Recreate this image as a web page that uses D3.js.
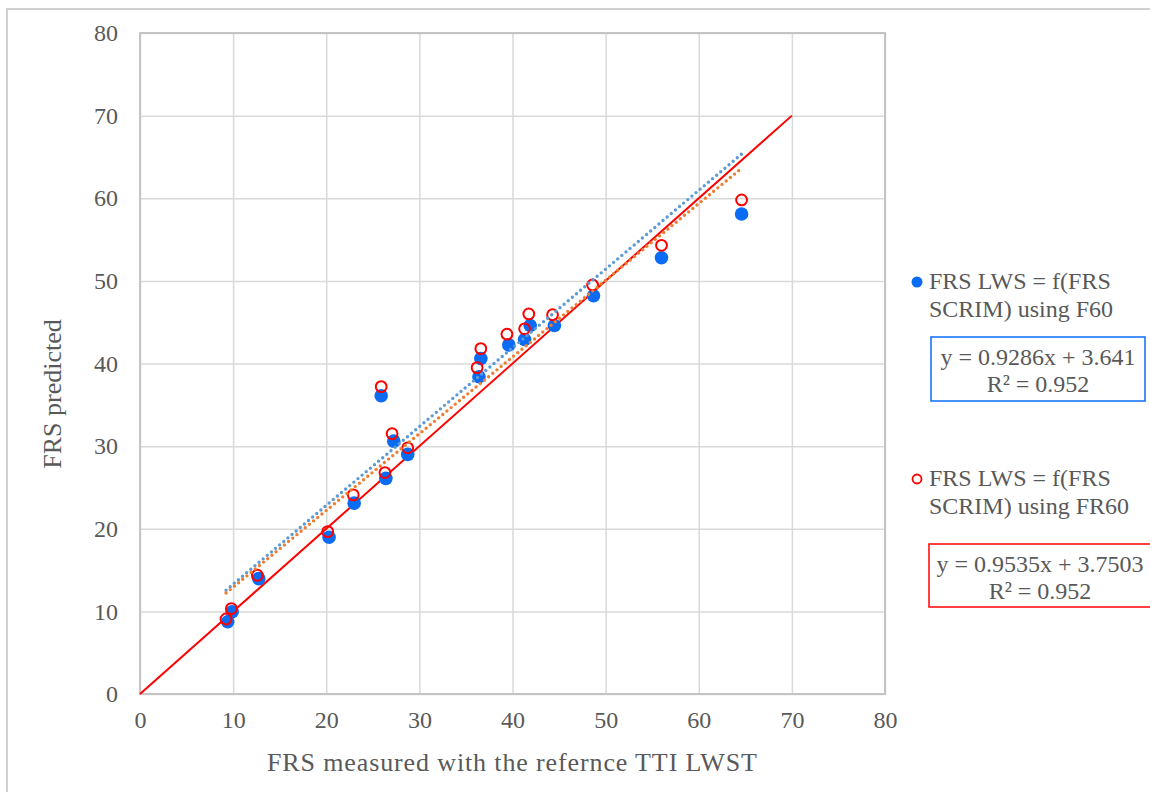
<!DOCTYPE html>
<html>
<head>
<meta charset="utf-8">
<script src="https://cdn.jsdelivr.net/npm/d3@7"></script>
<style>
  body { margin: 0; background: #fff; }
  svg { display: block; }
  text { font-family: "Liberation Serif", "Times New Roman", serif; fill: #595959; }
</style>
</head>
<body>
<div id="chart"></div>
<script>
// measured FRS (x) and predicted FRS (y) for both series
const f60Measured = [9.42, 9.9, 12.75, 20.3, 23.0, 25.9, 26.4, 27.25, 28.75, 36.4, 36.6, 39.6, 41.3, 41.9, 44.5, 48.7, 56.0, 64.6];
const f60Predicted = [8.75, 9.96, 13.96, 18.97, 23.1, 36.1, 26.1, 30.6, 29.0, 38.4, 40.6, 42.25, 42.9, 44.6, 44.6, 48.2, 52.8, 58.1];
const fr60Measured = [9.24, 9.81, 12.6, 20.16, 22.9, 25.9, 26.3, 27.07, 28.75, 36.2, 36.6, 39.4, 41.3, 41.75, 44.3, 48.6, 56.0, 64.6];
const fr60Predicted = [9.08, 10.33, 14.37, 19.65, 24.1, 37.2, 26.8, 31.5, 29.8, 39.5, 41.8, 43.55, 44.2, 46.0, 45.9, 49.5, 54.3, 59.8];

// trendlines as drawn (dotted blue, dotted orange)
const trendSlopes = [0.9535, 0.9286];
const trendIntercepts = [3.7503, 3.641];
const trendRange = [9.24, 64.6];

// y = x reference line
const identityRange = [0, 70];

const xTicks = [0, 10, 20, 30, 40, 50, 60, 70, 80];
const yTicks = [0, 10, 20, 30, 40, 50, 60, 70, 80];

const legendLabels = [
  ['FRS LWS = f(FRS', 'SCRIM) using F60'],
  ['FRS LWS = f(FRS', 'SCRIM) using FR60'],
];
const equationLabels = [
  ['y = 0.9286x + 3.641', 'R² = 0.952'],
  ['y = 0.9535x + 3.7503', 'R² = 0.952'],
];

const width = 1150;
const height = 792;
const plot = { left: 140, right: 885, top: 33, bottom: 694 };

const svg = d3.select('#chart')
  .append('svg')
  .attr('width', width)
  .attr('height', height);

// outer chart border
svg.append('rect')
  .attr('x', 7).attr('y', 9)
  .attr('width', width + 10).attr('height', height + 10)
  .attr('fill', 'none')
  .attr('stroke', '#d0d0d0')
  .attr('stroke-width', 2);

const xScale = d3.scaleLinear().domain([0, 80]).range([plot.left, plot.right]);
const yScale = d3.scaleLinear().domain([0, 80]).range([plot.bottom, plot.top]);

// gridlines
svg.append('g')
  .attr('class', 'grid-x')
  .attr('transform', `translate(0, ${plot.bottom})`)
  .call(d3.axisBottom(xScale).tickValues(xTicks).tickFormat('').tickSize(-(plot.bottom - plot.top)))
  .call((g) => g.select('.domain').remove())
  .call((g) => g.selectAll('line').attr('stroke', '#d9d9d9').attr('stroke-width', 1.5));

svg.append('g')
  .attr('class', 'grid-y')
  .attr('transform', `translate(${plot.left}, 0)`)
  .call(d3.axisLeft(yScale).tickValues(yTicks).tickFormat('').tickSize(-(plot.right - plot.left)))
  .call((g) => g.select('.domain').remove())
  .call((g) => g.selectAll('line').attr('stroke', '#d9d9d9').attr('stroke-width', 1.5));

// plot border
svg.append('rect')
  .attr('x', plot.left).attr('y', plot.top)
  .attr('width', plot.right - plot.left).attr('height', plot.bottom - plot.top)
  .attr('fill', 'none')
  .attr('stroke', '#c4c4c4')
  .attr('stroke-width', 2);

// tick labels
const xAxis = svg.append('g')
  .attr('transform', `translate(0, ${plot.bottom})`)
  .call(d3.axisBottom(xScale).tickValues(xTicks).tickSize(0).tickPadding(17));
xAxis.select('.domain').remove();
xAxis.selectAll('text').attr('font-size', 24).attr('fill', '#595959')
  .style('font-family', '"Liberation Serif", serif');

const yAxis = svg.append('g')
  .attr('transform', `translate(${plot.left}, 0)`)
  .call(d3.axisLeft(yScale).tickValues(yTicks).tickSize(0).tickPadding(22));
yAxis.select('.domain').remove();
yAxis.selectAll('text').attr('font-size', 24).attr('fill', '#595959')
  .style('font-family', '"Liberation Serif", serif');

// axis titles
svg.append('text')
  .attr('x', 512).attr('y', 771)
  .attr('text-anchor', 'middle')
  .attr('font-size', 26)
  .attr('textLength', 490)
  .text('FRS measured  with the refernce TTI LWST');

svg.append('text')
  .attr('transform', 'translate(61, 394) rotate(-90)')
  .attr('text-anchor', 'middle')
  .attr('font-size', 26)
  .text('FRS predicted');

// y = x line
const line = d3.line().x((d) => xScale(d[0])).y((d) => yScale(d[1]));
svg.append('path')
  .datum(identityRange.map((v) => [v, v]))
  .attr('d', line)
  .attr('stroke', '#ff0000')
  .attr('stroke-width', 2)
  .attr('fill', 'none');

// series points
svg.append('g')
  .selectAll('circle')
  .data(d3.zip(f60Measured, f60Predicted))
  .join('circle')
  .attr('cx', (d) => xScale(d[0]))
  .attr('cy', (d) => yScale(d[1]))
  .attr('r', 6.8)
  .attr('fill', '#0a6cf5');

svg.append('g')
  .selectAll('circle')
  .data(d3.zip(fr60Measured, fr60Predicted))
  .join('circle')
  .attr('cx', (d) => xScale(d[0]))
  .attr('cy', (d) => yScale(d[1]))
  .attr('r', 5.4)
  .attr('fill', 'none')
  .attr('stroke', '#ff0000')
  .attr('stroke-width', 2);

// trendlines
const trendColors = ['#5b9bd5', '#ed7d31'];
trendSlopes.forEach((m, i) => {
  svg.append('path')
    .datum(trendRange.map((x) => [x, m * x + trendIntercepts[i]]))
    .attr('d', line)
    .attr('fill', 'none')
    .attr('stroke', trendColors[i])
    .attr('stroke-width', 3.4)
    .attr('stroke-linecap', 'round')
    .attr('stroke-dasharray', '0 5.4');
});

// legend
const legendY = [281, 478];
const boxes = [
  { x: 931, y: 337, w: 214, h: 64, color: '#0a6cf5' },
  { x: 929, y: 544, w: 240, h: 63, color: '#ff0000' },
];

legendLabels.forEach((lines, i) => {
  const g = svg.append('g');
  if (i === 0) {
    g.append('circle').attr('cx', 917).attr('cy', legendY[i] + 1).attr('r', 5.5).attr('fill', '#0a6cf5');
  } else {
    g.append('circle').attr('cx', 917).attr('cy', legendY[i] + 1).attr('r', 4.5)
      .attr('fill', 'none').attr('stroke', '#ff0000').attr('stroke-width', 1.8);
  }
  lines.forEach((t, j) => {
    g.append('text')
      .attr('x', 929)
      .attr('y', legendY[i] + j * 28)
      .attr('dy', '0.35em')
      .attr('font-size', 24)
      .text(t);
  });

  const b = boxes[i];
  g.append('rect')
    .attr('x', b.x).attr('y', b.y)
    .attr('width', b.w).attr('height', b.h)
    .attr('fill', '#fff')
    .attr('stroke', b.color)
    .attr('stroke-width', 1.5);
  equationLabels[i].forEach((t, j) => {
    g.append('text')
      .attr('x', i === 0 ? 1038 : 1040)
      .attr('y', b.y + 20 + j * 27)
      .attr('dy', '0.35em')
      .attr('text-anchor', 'middle')
      .attr('font-size', 24)
      .text(t);
  });
});
</script>
</body>
</html>
